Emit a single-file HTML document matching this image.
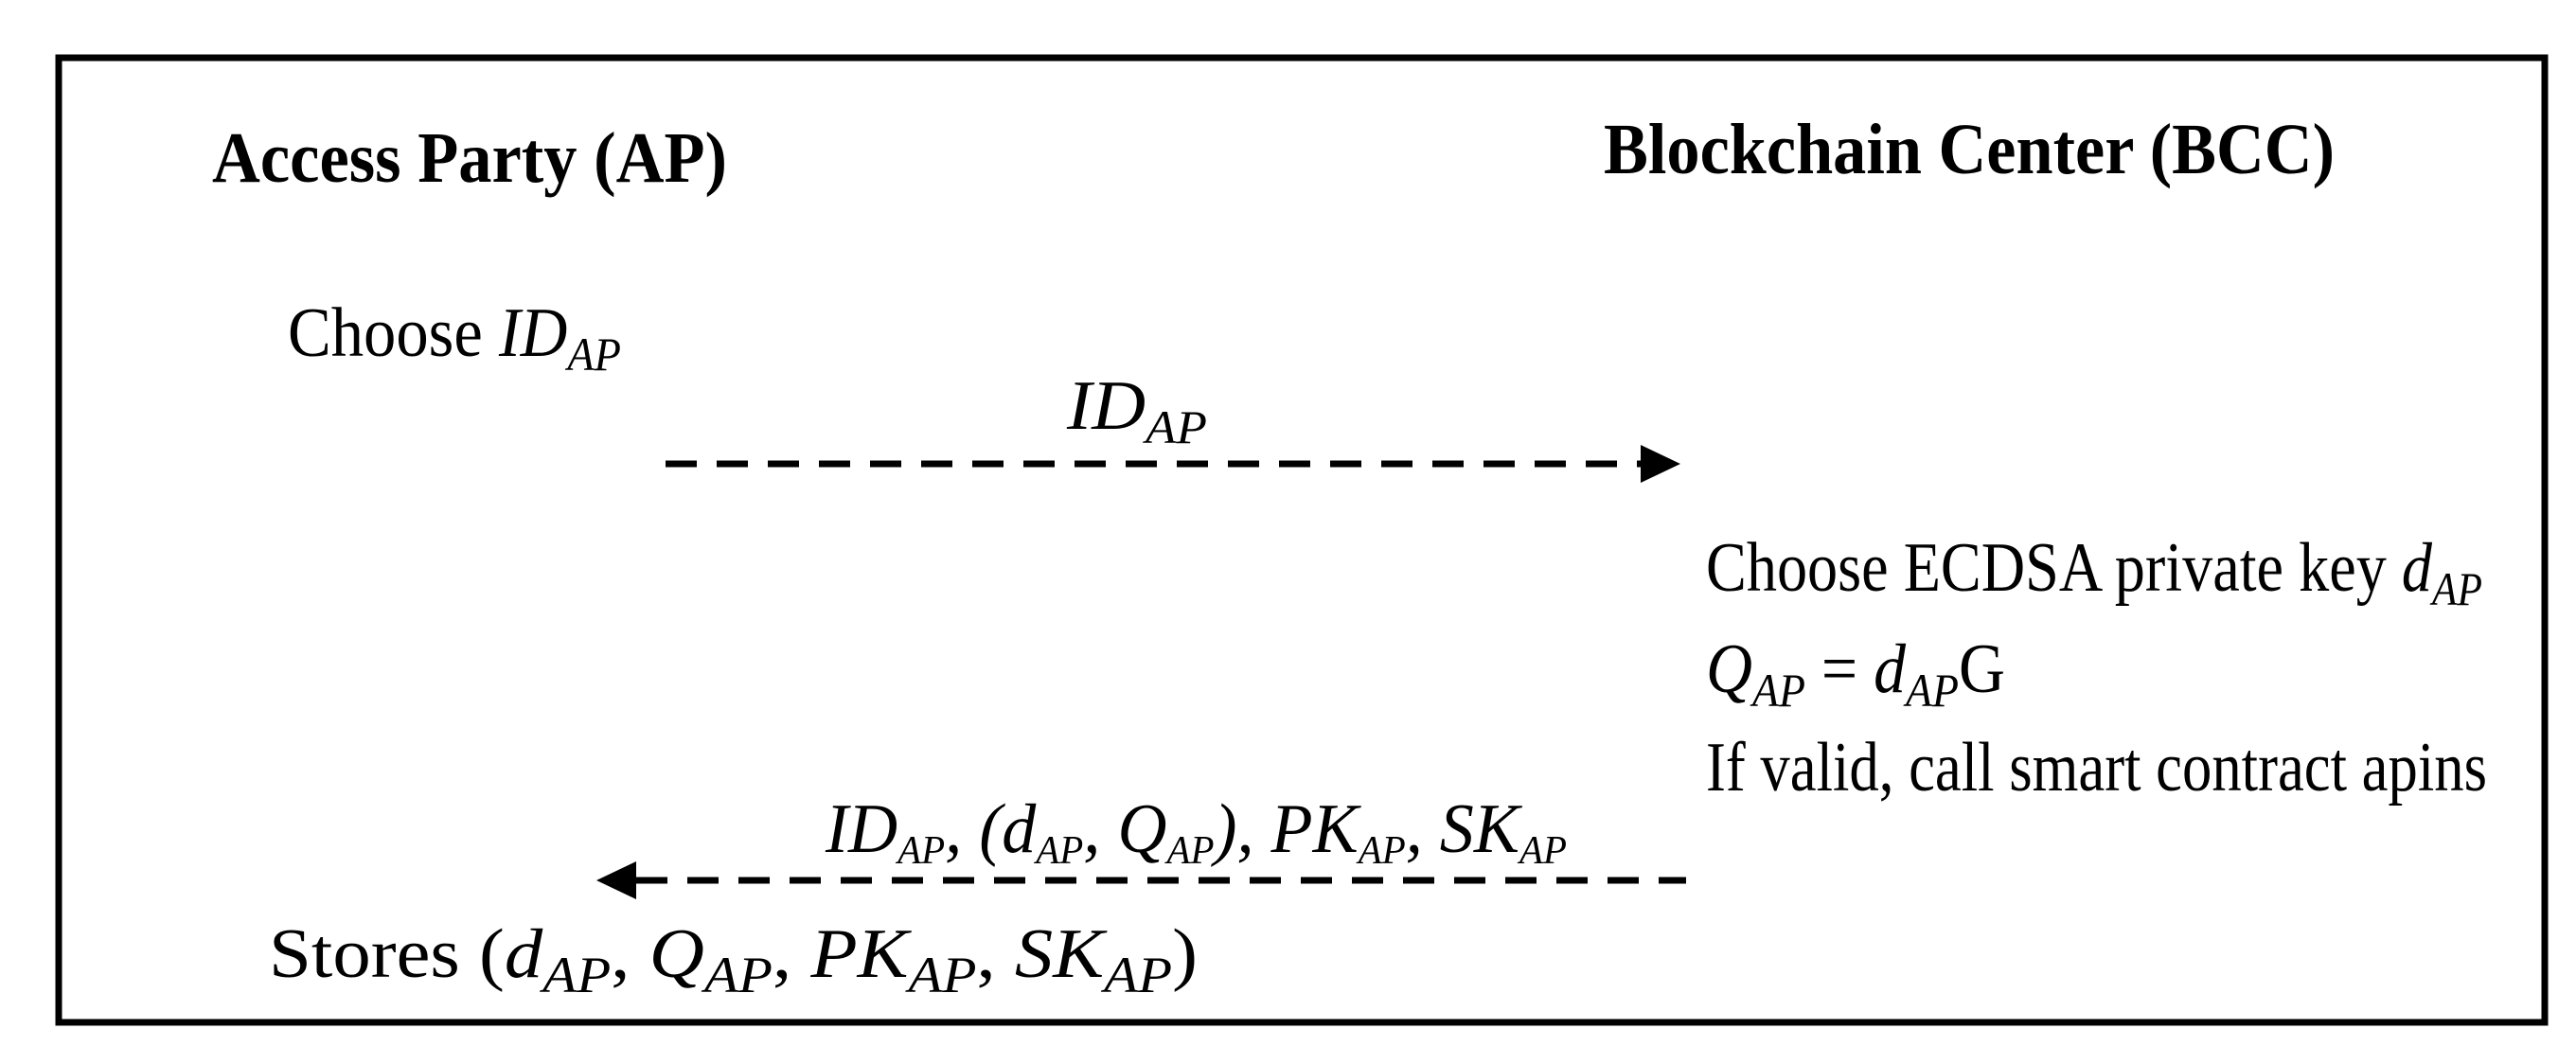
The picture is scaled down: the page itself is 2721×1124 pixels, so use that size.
<!DOCTYPE html>
<html><head><meta charset="utf-8"><style>
html,body{margin:0;padding:0;background:#fff;}
svg{display:block;}
text{font-family:"Liberation Serif",serif;fill:#000;}
.b{font-weight:bold;font-size:76px;}
.r{font-size:74px;}
.i{font-style:italic;}
</style></head><body>
<svg width="2721" height="1124" viewBox="0 0 2721 1124" xmlns="http://www.w3.org/2000/svg">
<rect x="62" y="61" width="2626" height="1019" fill="none" stroke="#000" stroke-width="7"/>
<text class="b" x="224" y="192" textLength="544" lengthAdjust="spacingAndGlyphs">Access Party (AP)</text>
<text class="b" x="1694" y="183" textLength="772" lengthAdjust="spacingAndGlyphs">Blockchain Center (BCC)</text>

<text class="r" x="304" y="376" textLength="352" lengthAdjust="spacingAndGlyphs">Choose <tspan class="i">ID</tspan><tspan class="i" font-size="50" dy="15">AP</tspan></text>

<text class="r i" x="1127" y="453" textLength="148" lengthAdjust="spacingAndGlyphs">ID<tspan font-size="50" dy="15">AP</tspan></text>
<line x1="703" y1="490" x2="1735" y2="490" stroke="#000" stroke-width="7" stroke-dasharray="33 21"/>
<polygon points="1733,470 1775,490 1733,510" fill="#000"/>

<text class="r" x="1802" y="624" textLength="820" lengthAdjust="spacingAndGlyphs">Choose ECDSA private key <tspan class="i">d</tspan><tspan class="i" font-size="50" dy="15">AP</tspan></text>
<text class="r" x="1802" y="731" textLength="316" lengthAdjust="spacingAndGlyphs"><tspan class="i">Q</tspan><tspan class="i" font-size="50" dy="15">AP</tspan><tspan dy="-15"> = </tspan><tspan class="i">d</tspan><tspan class="i" font-size="50" dy="15">AP</tspan><tspan dy="-15">G</tspan></text>
<text class="r" x="1802" y="835" textLength="825" lengthAdjust="spacingAndGlyphs">If valid, call smart contract apins</text>

<text class="r i" x="872" y="900" font-size="62" textLength="783" lengthAdjust="spacingAndGlyphs">ID<tspan font-size="42" dy="12">AP</tspan><tspan dy="-12">, (d</tspan><tspan font-size="42" dy="12">AP</tspan><tspan dy="-12">, Q</tspan><tspan font-size="42" dy="12">AP</tspan><tspan dy="-12">), PK</tspan><tspan font-size="42" dy="12">AP</tspan><tspan dy="-12">, SK</tspan><tspan font-size="42" dy="12">AP</tspan></text>
<line x1="672" y1="930" x2="1781" y2="930" stroke="#000" stroke-width="7" stroke-dasharray="33 21"/>
<polygon points="672,910 630,930 672,950" fill="#000"/>

<text class="r" x="284" y="1032" font-size="80" textLength="981" lengthAdjust="spacingAndGlyphs">Stores  (<tspan class="i">d</tspan><tspan class="i" font-size="54" dy="16">AP</tspan><tspan dy="-16">, </tspan><tspan class="i">Q</tspan><tspan class="i" font-size="54" dy="16">AP</tspan><tspan dy="-16">, </tspan><tspan class="i">PK</tspan><tspan class="i" font-size="54" dy="16">AP</tspan><tspan dy="-16">, </tspan><tspan class="i">SK</tspan><tspan class="i" font-size="54" dy="16">AP</tspan><tspan dy="-16">)</tspan></text>
</svg>
</body></html>
